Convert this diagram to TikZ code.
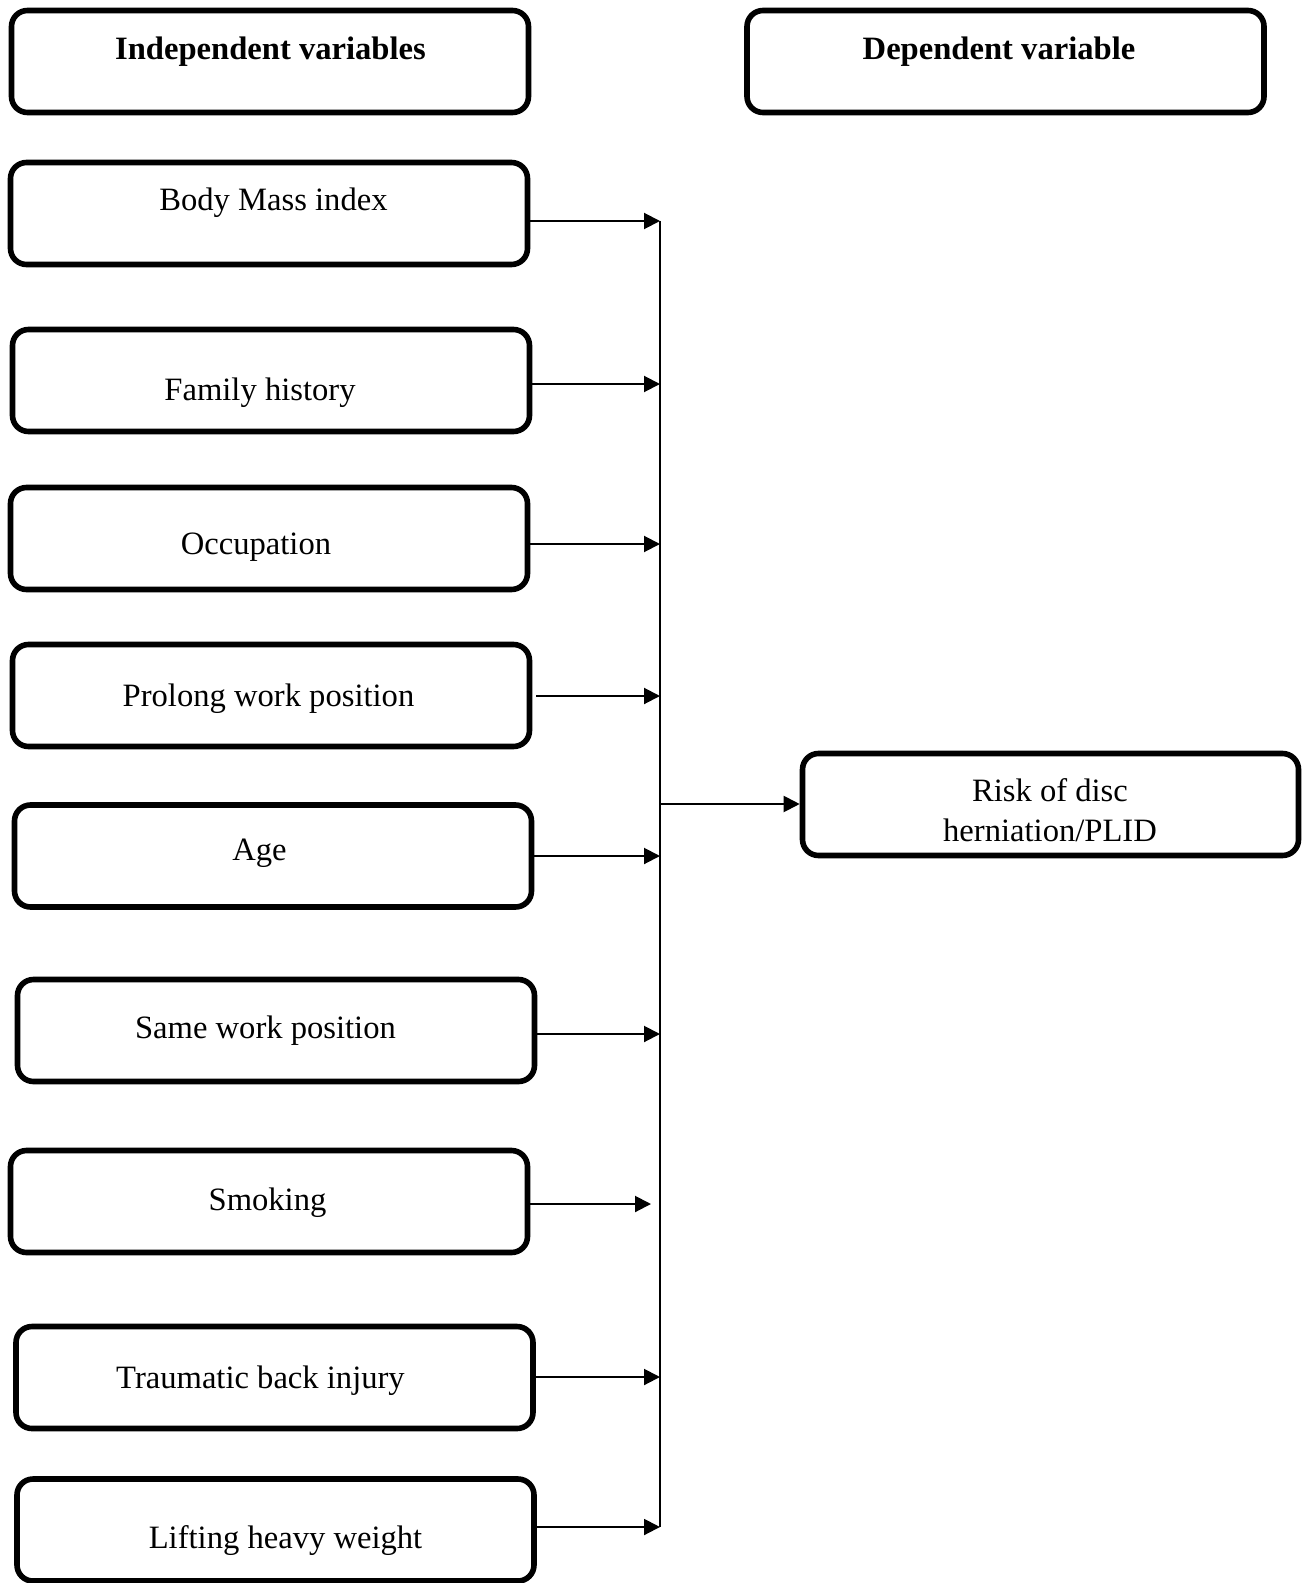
\documentclass[tikz,border=0pt]{standalone}
\usepackage{fontspec}
\setmainfont{Liberation Serif}
\usetikzlibrary{arrows.meta}

\tikzset{
  varbox/.style={draw, line width=2.8pt, rounded corners=8pt, minimum width=258.5pt, minimum height=51pt, inner sep=0pt},
  vartext/.style={anchor=base, inner sep=0pt, font=\fontsize{16.3}{20.2}\selectfont},
  conn/.style={line width=1pt, -{Triangle[length=8pt,width=8pt]}},
  busline/.style={line width=1pt}
}

\begin{document}
\begin{tikzpicture}[x=0.5pt, y=-0.5pt]
\useasboundingbox (0,0) rectangle (1306,1583);
% headings
\node[varbox] (indep) at (270,61.5) {};
\node[vartext, font=\fontsize{16.3}{20.2}\selectfont\bfseries] (indept) at (270.5,59.5) {Independent variables};
\node[varbox] (dep) at (1005.5,61.5) {};
\node[vartext, font=\fontsize{16.3}{20.2}\selectfont\bfseries] (dept) at (999,59.5) {Dependent variable};
% independent variables
\node[varbox] (bmi) at (269,213.5) {};
\node[vartext] (bmit) at (273.5,211) {Body Mass index};
\node[varbox] (family) at (271,380.5) {};
\node[vartext] (familyt) at (260,400.5) {Family history};
\node[varbox] (occup) at (269,538.5) {};
\node[vartext] (occupt) at (256,554) {Occupation};
\node[varbox] (prolong) at (271,695.5) {};
\node[vartext] (prolongt) at (268.5,706.5) {Prolong work position};
\node[varbox] (age) at (273,856) {};
\node[vartext] (aget) at (259.5,860) {Age};
\node[varbox] (same) at (276,1030.5) {};
\node[vartext] (samet) at (265.5,1038.5) {Same work position};
\node[varbox] (smoking) at (269,1201.5) {};
\node[vartext] (smokingt) at (267.5,1210) {Smoking};
\node[varbox] (trauma) at (274.5,1377.5) {};
\node[vartext] (traumat) at (260.5,1388.5) {Traumatic back injury};
\node[varbox] (lifting) at (275.5,1530) {};
\node[vartext] (liftingt) at (285.5,1548) {Lifting heavy weight};
% dependent variable
\node[varbox, minimum width=248pt] (risk) at (1050.5,804.5) {};
\node[inner sep=0pt, align=center, font=\fontsize{16.3}{20.2}\selectfont] (riskt) at (1050,810) {Risk of disc\\herniation/PLID};
% bus ends
\coordinate (b1) at (660,221);
\coordinate (b2) at (660,384);
\coordinate (b3) at (660,544);
\coordinate (b4) at (660,696);
\coordinate (b5) at (660,856);
\coordinate (b6) at (660,1034);
\coordinate (b7) at (651,1204);
\coordinate (b8) at (660,1377);
\coordinate (b9) at (660,1527);
\coordinate (hub) at (660,804);
\draw[busline] (b1) -- (b9);
\draw[conn] (bmi.east |- b1) -- (b1);
\draw[conn] (family.east |- b2) -- (b2);
\draw[conn] (occup.east |- b3) -- (b3);
\draw[conn] ([xshift=2pt]prolong.east |- b4) -- (b4);
\draw[conn] (age.east |- b5) -- (b5);
\draw[conn] (same.east |- b6) -- (b6);
\draw[conn] (smoking.east |- b7) -- (b7);
\draw[conn] (trauma.east |- b8) -- (b8);
\draw[conn] (lifting.east |- b9) -- (b9);
\draw[conn] (hub) -- (risk.west |- hub);
\end{tikzpicture}
\end{document}
